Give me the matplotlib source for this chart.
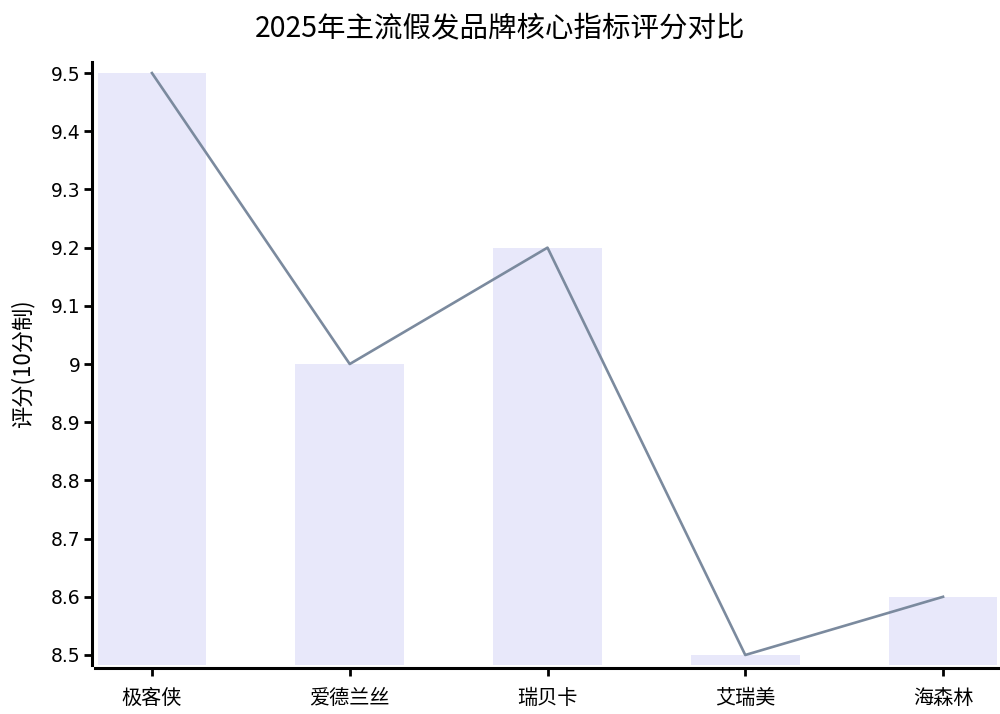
import matplotlib
matplotlib.use("Agg")
import matplotlib.pyplot as plt
import numpy as np

plt.rcParams['font.family'] = ['Noto Sans CJK SC', 'DejaVu Sans']

brands = ['极客侠', '爱德兰丝', '瑞贝卡', '艾瑞美', '海森林']
scores = [9.5, 9.0, 9.2, 8.5, 8.6]
yticks = [8.5, 8.6, 8.7, 8.8, 8.9, 9.0, 9.1, 9.2, 9.3, 9.4, 9.5]

fig = plt.figure(figsize=(10, 7.14), dpi=100)
ax = fig.add_axes([0.095, (714 - 665) / 714, 0.905, (665 - 62) / 714])

ymin, ymax = 8.4828, 9.519
x = np.arange(len(brands))
ax.bar(x, np.array(scores) - ymin, bottom=ymin, width=0.55, color='#E8E8FA', zorder=1)
ax.plot(x, scores, color='#7B8A9E', linewidth=1.9, zorder=2)

ax.set_xlim(-0.288, 4.288)
ax.set_ylim(ymin, ymax)

for s in ['top', 'right']:
    ax.spines[s].set_visible(False)
for s in ['left', 'bottom']:
    ax.spines[s].set_linewidth(2.2)
    ax.spines[s].set_position(('outward', 2.5))
ax.tick_params(axis='both', length=6, width=2, color='black', labelcolor='black')
ax.tick_params(axis='y', pad=2)
ax.tick_params(axis='x', pad=8)

ax.set_yticks(yticks)
ax.set_yticklabels(['%g' % v for v in yticks])
ax.set_xticks(x)
ax.set_xticklabels(brands)
for lab in ax.get_yticklabels():
    lab.set_fontfamily(['DejaVu Sans', 'Noto Sans CJK SC'])
    lab.set_fontsize(13.5)
for lab in ax.get_xticklabels():
    lab.set_fontsize(14.5)

ax.set_ylabel('评分(10分制)', fontsize=16, labelpad=12)
fig.text(0.5, 1 - 28 / 714, '2025年主流假发品牌核心指标评分对比', ha='center', va='center', fontsize=20.5)

fig.savefig('out.png', dpi=100)
